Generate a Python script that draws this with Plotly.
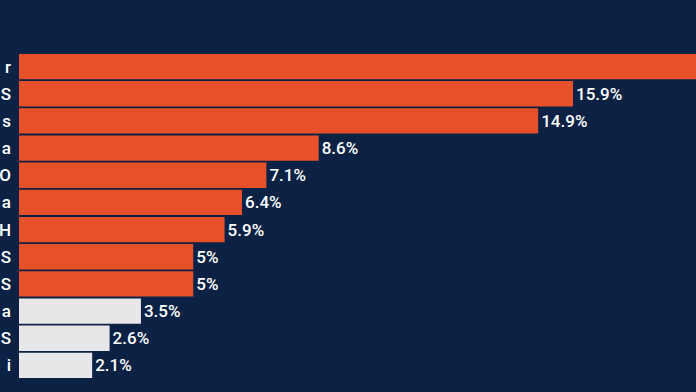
import plotly.graph_objects as go

labels = ["r", "S", "s", "a", "O", "a", "H", "S", "S", "a", "S", "i"]
values = [21.5, 15.9, 14.9, 8.6, 7.1, 6.4, 5.9, 5, 5, 3.5, 2.6, 2.1]
highlight = [True] * 9 + [False] * 3

ORANGE = "#e8502a"
GREY = "#e7e7e9"
BG = "#0b2245"
X_MAX = 19.43  # visible part of the value axis

colors = [ORANGE if h else GREY for h in highlight]
# the label of a bar that runs past the visible edge is off-screen
texts = [f"{v:g}%" if v < X_MAX else "" for v in values]

fig = go.Figure(go.Bar(
    x=values,
    y=list(range(len(values))),
    orientation="h",
    marker=dict(color=colors, line=dict(width=0)),
    text=texts,
    textposition="outside",
    textfont=dict(color="white", size=17, family="Roboto", weight=500),
    cliponaxis=True,
    width=0.93,
))

fig.update_layout(
    width=696, height=392,
    paper_bgcolor=BG, plot_bgcolor=BG,
    margin=dict(l=19, r=0, t=53, b=13),
    showlegend=False,
    xaxis=dict(range=[0, X_MAX], visible=False, fixedrange=True),
    yaxis=dict(
        tickmode="array",
        tickvals=list(range(len(labels))),
        ticktext=labels,
        range=[11.5, -0.5], autorange=False,
        showgrid=False, zeroline=False, showline=False,
        ticks="",
        ticklabelstandoff=7,
        tickfont=dict(color="white", size=17, family="Roboto", weight=500),
        automargin=False,
        fixedrange=True,
    ),
)

fig.write_html(
    "out.html",
    config={"displayModeBar": False},
    post_script="document.body.style.margin='0';document.body.style.overflow='hidden';",
)
